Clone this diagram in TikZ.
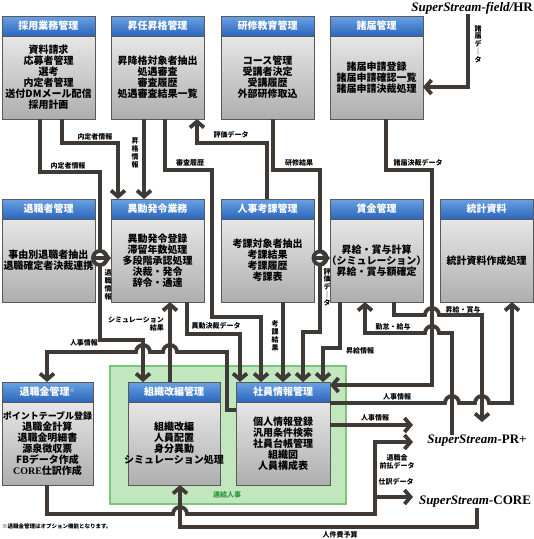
\documentclass[tikz,border=0pt]{standalone}
\usepackage{fontspec}
\setmainfont{Noto Sans CJK JP}
\newfontfamily\ssf{Liberation Serif}
\usetikzlibrary{arrows.meta,calc,shadows}
\definecolor{lc}{HTML}{3F3A35}
\definecolor{hdtop}{HTML}{6AA2E4}
\definecolor{hdbot}{HTML}{2A66BC}
\definecolor{bdtop}{HTML}{F4F4F4}
\definecolor{bdbot}{HTML}{AEAEAE}
\definecolor{gfill}{HTML}{C2E6BE}
\definecolor{gline}{HTML}{7CC47A}
\definecolor{gtext}{HTML}{2E9A3C}
\tikzset{
 bodybox/.style={draw=black!65, line width=0.7pt, top color=bdtop, bottom color=bdbot, inner sep=0pt, outer sep=0pt, minimum height=103pt, drop shadow={opacity=0.3, shadow xshift=1.2pt, shadow yshift=-1.2pt}},
 headbox/.style={draw=black!65, line width=0.7pt, top color=hdtop, bottom color=hdbot, inner sep=0pt, outer sep=0pt, minimum height=20pt, text=white, font=\fontsize{10}{11}\selectfont\bfseries},
 btext/.style={align=center, font=\fontsize{10}{11}\selectfont\bfseries, inner sep=0pt},
 ln/.style={draw=lc, line width=3.8pt, line join=miter},
 ar/.style={-{Straight Barb[length=6pt,width=14pt]}},
 lab/.style={font=\fontsize{7}{8}\selectfont\bfseries, inner sep=0pt, text=black},
 vlab/.style={lab, align=center, font=\fontsize{7}{7.8}\selectfont\bfseries},
 ss/.style={font=\ssf\fontsize{13}{13}\selectfont\bfseries\itshape, inner sep=0pt},
}
\newcommand\mkbox[6]{%
  \node[bodybox, minimum width=#4pt, anchor=north west] (#1) at (#2,#3) {};
  \node[headbox, minimum width=#4pt, anchor=north west] (#1h) at (#2,#3) {#5};
  \node[btext] (#1t) at ($(#1h.south)!0.5!(#1.south)$) {#6};
}
\begin{document}
\begin{tikzpicture}[x=1pt,y=-1pt]
\fill[white] (0,0) rectangle (534,539);
\useasboundingbox (0,0) rectangle (534,539);
% green group
\node[fill=gfill, draw=gline, line width=1.2pt, minimum width=236pt, minimum height=138pt, anchor=north west, inner sep=0pt, outer sep=0pt] (grp) at (110,366) {};
\node[font=\fontsize{7}{8}\selectfont\bfseries, text=gtext, inner sep=0pt] (grpl) at (227,495) {連結人事};
% boxes
\mkbox{A}{2}{16}{93}{採用業務管理}{資料請求\\応募者管理\\選考\\内定者管理\\送付DMメール配信\\採用計画}
\mkbox{B}{111}{16}{93}{昇任昇格管理}{昇降格対象者抽出\\処遇審査\\審査履歴\\処遇審査結果一覧}
\mkbox{C}{221}{16}{93}{研修教育管理}{コース管理\\受講者決定\\受講履歴\\外部研修取込}
\mkbox{D}{330}{16}{93}{諸届管理}{諸届申請登録\\諸届申請確認一覧\\諸届申請決裁処理}
\mkbox{E}{2}{199}{93}{退職者管理}{事由別退職者抽出\\退職確定者決裁連携}
\mkbox{F}{111}{199}{93}{異動発令業務}{異動発令登録\\滞留年数処理\\多段階承認処理\\決裁・発令\\辞令・通達}
\mkbox{G}{221}{199}{93}{人事考課管理}{考課対象者抽出\\考課結果\\考課履歴\\考課表}
\mkbox{H}{330}{199}{93}{賃金管理}{昇給・賞与計算\\（シミュレーション）\\昇給・賞与額確定}
\mkbox{I}{440}{199}{93}{統計資料}{統計資料作成処理}
\mkbox{J}{2}{382}{91}{退職金管理\textsuperscript{\tiny ※}}{\fontsize{9}{11}\selectfont ポイントテーブル登録\\退職金計算\\退職金明細書\\源泉徴収票\\FBデータ作成\\{\ssf CORE}仕訳作成}
\mkbox{K}{128}{382}{92}{組織改編管理}{組織改編\\人員配置\\身分異動\\シミュレーション処理}
\mkbox{L}{236}{382}{94}{社員情報管理}{個人情報登録\\汎用条件検索\\社員台帳管理\\組織図\\人員構成表}
% external systems
\node[ss, anchor=east] (hr) at (533,8) {SuperStream-field/\upshape HR};
\node[ss] (pr) at (477,441) {SuperStream-\upshape PR+};
\node[ss] (core) at (475,502) {SuperStream-\upshape CORE};
\coordinate (pin1) at (413,425);
\coordinate (pin2) at (413,442);
\coordinate (cin) at (413,497);
% connectors
\draw[ln,ar] (A.south -| 62,0) -- (62,143) -- (118,143) -- (F.north -| 118,0);
\draw[ln] (A.south -| 40,0) -- (40,172) -- (100,172) -- (100,251);
\draw[ln] (100,258) circle[radius=7];
\draw[ln,ar] (100,265) -- (100,340) -- (143,340) -- (K.north -| 143,0);
\draw[ln,ar] (E.east |- 0,258) -- (F.west |- 0,258);
\draw[ln,ar] (B.south -| 144,0) -- (F.north -| 144,0);
\draw[ln,ar] (B.south -| 165,0) -- (165,170) -- (212,170) -- (212,317) -- (261,317) -- (L.north -| 261,0);
\draw[ln,ar] (F.south -| 187,0) -- (187,334) -- (240,334) -- (L.north -| 240,0);
\draw[ln,ar] (G.north -| 267,0) -- (267,143) -- (197,143) -- (B.south -| 197,0);
\draw[ln] (C.south -| 273,0) -- (273,170) -- (320,170) -- (320,251);
\draw[ln] (320,258) circle[radius=6.5];
\draw[ln,ar] (320,265) -- (320,332) -- (303,332) -- (L.north -| 303,0);
\draw[ln,ar] (G.east |- 0,258) -- (H.west |- 0,258);
\draw[ln,ar] (hr.south -| 468,0) -- (468,87) -- (D.east |- 0,87);
\draw[ln,ar] (D.south -| 386,0) -- (386,170) -- (432,170) -- (432,385) -- (L.east |- 0,385);
\draw[ln,ar] (pr.north -| 452,0) -- (452,333) -- (439,333) arc[start angle=0,end angle=-180,radius=7] -- (365,333) -- (H.south -| 365,0);
\draw[ln,ar] (H.south -| 394,0) -- (394,315) -- (425,315) arc[start angle=180,end angle=360,radius=7] -- (482,315) -- (482,422);
\draw[ln,ar] (L.east |- 0,403) -- (445,403) arc[start angle=180,end angle=360,radius=7] -- (475,403) arc[start angle=180,end angle=360,radius=7] -- (512,403) -- (I.south -| 512,0);
\draw[ln,ar] (L.east |- 0,425) -- (pin1);
\draw[ln,ar] (J.south -| 47,0) -- (47,514) -- (173,514) arc[start angle=180,end angle=360,radius=7] -- (375,514) -- (375,442) -- (pin2);
\draw[ln,ar] (375,497) -- (cin);
\draw[ln,ar] (core.south -| 477,0) -- (477,527) -- (180,527) -- (K.south -| 180,0);
\draw[ln,ar] (L.west |- 0,410) -- (227,410) -- (227,352) -- (177,352) arc[start angle=0,end angle=-180,radius=7] -- (150,352) arc[start angle=0,end angle=-180,radius=7] -- (47,352) -- (J.north -| 47,0);
\draw[ln,ar] (K.north -| 170,0) -- (F.south -| 170,0);
\draw[ln,ar] (G.south -| 283,0) -- (L.north -| 283,0);
\draw[ln,ar] (H.south -| 340,0) -- (340,348) -- (323,348) -- (L.north -| 323,0);
% labels
\node[lab] (l1) at (95,137) {内定者情報};
\node[lab] (l2) at (68,166) {内定者情報};
\node[vlab] (l3) at (135,153) {昇\\格\\情\\報};
\node[lab] (l4) at (190,163) {審査履歴};
\node[lab] (l5) at (231,135) {評価データ};
\node[lab] (l6) at (299,163) {研修結果};
\node[vlab] (l7) at (478,44) {諸\\届\\デ\\｜\\タ};
\node[lab] (l8) at (418,163) {諸届決裁データ};
\node[vlab] (l9) at (108,285) {退\\職\\情\\報};
\node[vlab] (l10) at (327,287) {評\\価\\デ\\｜\\タ};
\node[lab, align=right, anchor=east] (l11) at (164,324) {シミュレーション\\結果};
\node[lab] (l12) at (216,326) {異動決裁データ};
\node[vlab] (l13) at (275,336) {考\\課\\結\\果};
\node[lab] (l14) at (360,351) {昇給情報};
\node[lab] (l15) at (393,327) {勤怠・給与};
\node[lab] (l16) at (463,310) {昇給・賞与};
\node[lab] (l17) at (84,343) {人事情報};
\node[lab] (l18) at (397,397) {人事情報};
\node[lab] (l19) at (375,418) {人事情報};
\node[lab, align=center] (l20) at (397,462) {退職金\\前払データ};
\node[lab] (l21) at (396,482) {仕訳データ};
\node[lab] (l22) at (340,535) {人件費予算};
\node[anchor=west, font=\fontsize{5.5}{6}\selectfont\bfseries, inner sep=0pt] (fn) at (2,526) {※退職金管理はオプション機能となります。};
\end{tikzpicture}
\end{document}
